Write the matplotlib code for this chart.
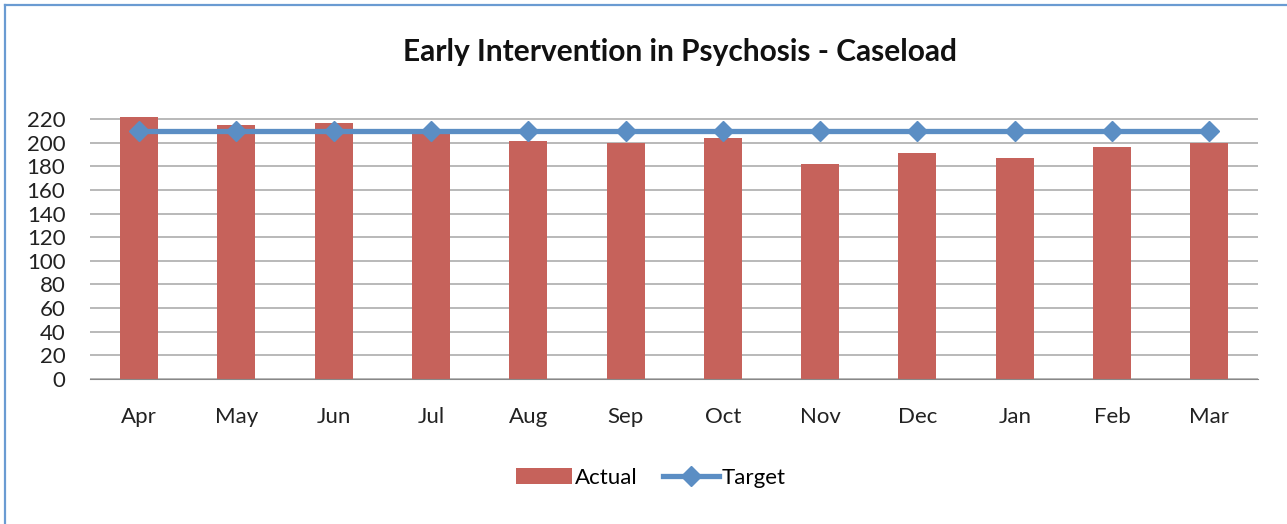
import matplotlib
matplotlib.use("Agg")
import matplotlib.pyplot as plt
from matplotlib.lines import Line2D

months = ["Apr", "May", "Jun", "Jul", "Aug", "Sep", "Oct", "Nov", "Dec", "Jan", "Feb", "Mar"]
actual = [222, 215, 217, 209, 201, 200, 204, 182, 191, 187, 196, 200]
target = [210, 210, 210, 210, 210, 210, 210, 210, 210, 210, 210, 210]
yticks = [0, 20, 40, 60, 80, 100, 120, 140, 160, 180, 200, 220]

plt.rcParams["font.family"] = ["Lato", "DejaVu Sans"]

W, H = 1287, 524
fig = plt.figure(figsize=(W / 100, H / 100), dpi=100)
ax = fig.add_axes([90.4 / W, 145 / H, (1258 - 90.4) / W, 264.7 / H])

x = list(range(len(months)))
bars = ax.bar(x, actual, width=0.39, color="#C6625B", label="Actual", zorder=2)
line, = ax.plot(x, target, color="#5B8EC4", linewidth=3.8, marker="D", markersize=10,
                label="Target", zorder=3)

ax.set_xlim(-0.5, len(months) - 0.5)
ax.set_ylim(0, 224)
ax.set_yticks(yticks)
ax.set_xticks(x)
ax.set_xticklabels(months)
ax.tick_params(axis="both", labelsize=16, colors="#222222", length=0)
ax.tick_params(axis="x", pad=20)
ax.tick_params(axis="y", pad=18)
ax.grid(axis="y", color="#A6A6A6", linewidth=1.1, zorder=0)
ax.set_axisbelow(True)
for s in ["top", "right", "left"]:
    ax.spines[s].set_visible(False)
ax.spines["bottom"].set_color("#888888")

fig.text(680 / W, 1 - 52 / H, "Early Intervention in Psychosis - Caseload",
         ha="center", va="center", fontsize=21.5, fontweight="bold", color="#111111")

fig.legend([bars, line], ["Actual", "Target"], loc="center",
           bbox_to_anchor=(651 / W, 1 - 478 / H),
           ncol=2, frameon=False, fontsize=16, handlelength=2.5, columnspacing=1.15,
           handletextpad=0.15)

# border (only top and left visible in the crop)
fig.add_artist(Line2D([4.5 / W, 1], [1 - 4.5 / H, 1 - 4.5 / H], color="#6A9BD2", linewidth=1.6))
fig.add_artist(Line2D([4.5 / W, 4.5 / W], [0, 1 - 4.5 / H], color="#6A9BD2", linewidth=1.6))

fig.savefig("out.png", dpi=100)
